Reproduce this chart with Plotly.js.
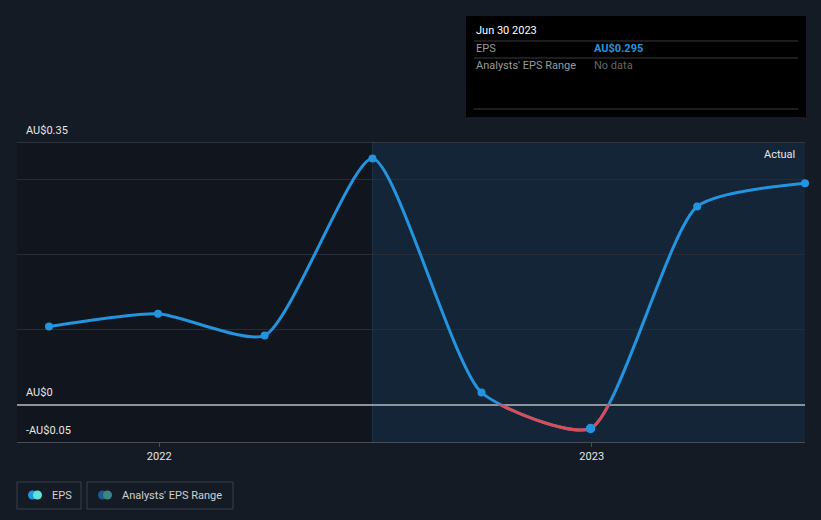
<!DOCTYPE html>
<html><head><meta charset="utf-8">
<script src="https://cdn.plot.ly/plotly-3.0.1.min.js"></script>
<style>html,body{margin:0;padding:0;background:#151b25;}#chart{width:821px;height:520px;}</style>
</head><body><div id="chart"></div>
<script>
// ---- data ----
const dates = ['2021-09-30','2021-12-31','2022-03-31','2022-06-30','2022-09-30','2022-12-31','2023-03-31','2023-06-30'];
const eps = [0.104, 0.121, 0.092, 0.328, 0.016, -0.032, 0.264, 0.295];
const gridVals = [0.1, 0.2, 0.3];
const yLabelVals = [0.35, 0, -0.05];
const yLabelText = ['AU$0.35', 'AU$0', '-AU$0.05'];
const xTickVals = ['2022-01-01', '2023-01-01'];
const xTickText = ['2022', '2023'];
const forecastStart = '2022-06-30';
const tipDate = 'Jun 30 2023';
const tipEps = 'AU$0.295';

const W = 821, H = 520, L = 17, R = 16, T = 142, B = 78;
const pw = W - L - R, ph = H - T - B;
const px = x => (x - L) / pw;
const py = y => (H - B - y) / ph;
const xRange = ['2021-09-03', '2023-06-30'];
const blue = '#2394df', red = '#dd4b55';
const font = 'Roboto, "Open Sans", sans-serif';
const smooth = 0.6;

const traces = [
  {x: dates, y: eps, type: 'scatter', mode: 'lines+markers', xaxis: 'x', yaxis: 'y',
   line: {color: blue, width: 3, shape: 'spline', smoothing: smooth},
   marker: {color: blue, size: 8}, hoverinfo: 'skip', cliponaxis: false},
  {x: dates, y: eps, type: 'scatter', mode: 'lines', xaxis: 'x', yaxis: 'y2',
   line: {color: red, width: 3, shape: 'spline', smoothing: smooth}, hoverinfo: 'skip'},
  {x: dates, y: eps, type: 'scatter', mode: 'markers', xaxis: 'x', yaxis: 'y2',
   marker: {color: blue, size: 8, line: {color: dates.map((d,i)=> i===dates.length-1 ? '#ffffff' : blue), width: 1.5}},
   hoverinfo: 'skip', cliponaxis: false}
];

const shapes = [
  {type:'rect', xref:'x', yref:'paper', x0: xRange[0], x1: forecastStart, y0: 0, y1: 1, fillcolor:'#11161e', line:{width:0}, layer:'below'},
  {type:'rect', xref:'x', yref:'paper', x0: forecastStart, x1: xRange[1], y0: 0, y1: 1, fillcolor:'#142537', line:{width:0}, layer:'below'},
  {type:'line', xref:'x', yref:'paper', x0: forecastStart, x1: forecastStart, y0: 0, y1: 1, line:{color:'#1d3145', width:1}, layer:'below'},
  {type:'line', xref:'paper', yref:'y', x0: 0, x1: 1, y0: yLabelVals[0], y1: yLabelVals[0], line:{color:'#474d57', width:1}},
  // tooltip
  {type:'rect', xref:'paper', yref:'paper', x0: px(466), x1: px(806), y0: py(117), y1: py(16), fillcolor:'#000000', line:{width:0}},
  {type:'line', xref:'paper', yref:'paper', x0: px(474), x1: px(798), y0: py(41), y1: py(41), line:{color:'#3a3a3a', width:1}},
  {type:'line', xref:'paper', yref:'paper', x0: px(474), x1: px(798), y0: py(58), y1: py(58), line:{color:'#3a3a3a', width:1}},
  {type:'line', xref:'paper', yref:'paper', x0: px(474), x1: px(798), y0: py(109), y1: py(109), line:{color:'#3a3a3a', width:1}},
  // legend boxes
  {type:'rect', xref:'paper', yref:'paper', x0: px(17), x1: px(81), y0: py(509), y1: py(482), fillcolor:'rgba(0,0,0,0)', line:{color:'#3b414c', width:1}},
  {type:'rect', xref:'paper', yref:'paper', x0: px(87), x1: px(233), y0: py(509), y1: py(482), fillcolor:'rgba(0,0,0,0)', line:{color:'#3b414c', width:1}},
  {type:'circle', xref:'paper', yref:'paper', x0: px(28), x1: px(37), y0: py(499.5), y1: py(490.5), fillcolor: blue, line:{width:0}},
  {type:'circle', xref:'paper', yref:'paper', x0: px(33), x1: px(42), y0: py(499.5), y1: py(490.5), fillcolor: '#5ee3d6', line:{width:0}},
  {type:'circle', xref:'paper', yref:'paper', x0: px(98), x1: px(107), y0: py(499.5), y1: py(490.5), fillcolor: '#1f5a8c', line:{width:0}},
  {type:'circle', xref:'paper', yref:'paper', x0: px(103), x1: px(112), y0: py(499.5), y1: py(490.5), fillcolor: '#3d8584', line:{width:0}}
];

const annotations = yLabelVals.map((v,i) => ({
  xref:'paper', yref:'y', x: px(24), y: v, yshift: 12, text: yLabelText[i], showarrow:false,
  xanchor:'left', yanchor:'middle', font:{color:'#e6e6e6', size:11, family: font}
}));
annotations.push(
  {xref:'paper', yref:'paper', x: px(797), y: py(154), text:'Actual', showarrow:false, xanchor:'right', yanchor:'middle', font:{color:'#e6e6e6', size:11, family:font}},
  {xref:'paper', yref:'paper', x: px(474), y: py(31), text: tipDate, showarrow:false, xanchor:'left', yanchor:'middle', font:{color:'#ffffff', size:11, family:font}},
  {xref:'paper', yref:'paper', x: px(474), y: py(49), text:'EPS', showarrow:false, xanchor:'left', yanchor:'middle', font:{color:'#9a9a9a', size:11, family:font}},
  {xref:'paper', yref:'paper', x: px(592), y: py(49), text:'<b>'+tipEps+'</b>', showarrow:false, xanchor:'left', yanchor:'middle', font:{color:blue, size:11, family:font}},
  {xref:'paper', yref:'paper', x: px(474), y: py(66), text:"Analysts' EPS Range", showarrow:false, xanchor:'left', yanchor:'middle', font:{color:'#9a9a9a', size:11, family:font}},
  {xref:'paper', yref:'paper', x: px(592), y: py(66), text:'No data', showarrow:false, xanchor:'left', yanchor:'middle', font:{color:'#666666', size:11, family:font}},
  {xref:'paper', yref:'paper', x: px(50), y: py(495), text:'EPS', showarrow:false, xanchor:'left', yanchor:'middle', font:{color:'#d0d0d0', size:11, family:font}},
  {xref:'paper', yref:'paper', x: px(120), y: py(495), text:"Analysts' EPS Range", showarrow:false, xanchor:'left', yanchor:'middle', font:{color:'#d0d0d0', size:11, family:font}}
);

const layout = {
  width: W, height: H,
  margin: {l: L, r: R, t: T, b: B, pad: 0},
  paper_bgcolor: '#151b25', plot_bgcolor: 'rgba(0,0,0,0)',
  showlegend: false,
  font: {family: font, color: '#e6e6e6', size: 11},
  xaxis: {type:'date', range: xRange, tickvals: xTickVals, ticktext: xTickText,
    showgrid:false, zeroline:false, showline:true, linecolor:'#474d57', linewidth:1,
    ticks:'outside', ticklen:4, tickcolor:'#474d57', tickfont:{color:'#e6e6e6', size:11, family:font},
    anchor:'y', fixedrange:true},
  yaxis: {domain:[0,1], range:[yLabelVals[2], yLabelVals[0]], tickvals: gridVals, showticklabels:false,
    gridcolor:'#252d38', gridwidth:1, zeroline:true, zerolinecolor:'#8b939c', zerolinewidth:2,
    showline:false, ticks:'', anchor:'x', fixedrange:true},
  yaxis2: {domain:[0, (0 - yLabelVals[2])/(yLabelVals[0]-yLabelVals[2])], range:[yLabelVals[2], 0],
    visible:false, showgrid:false, zeroline:false, anchor:'x', fixedrange:true},
  shapes: shapes, annotations: annotations, hovermode: false
};

Plotly.newPlot('chart', traces, layout, {displayModeBar:false, staticPlot:true});
</script></body></html>
